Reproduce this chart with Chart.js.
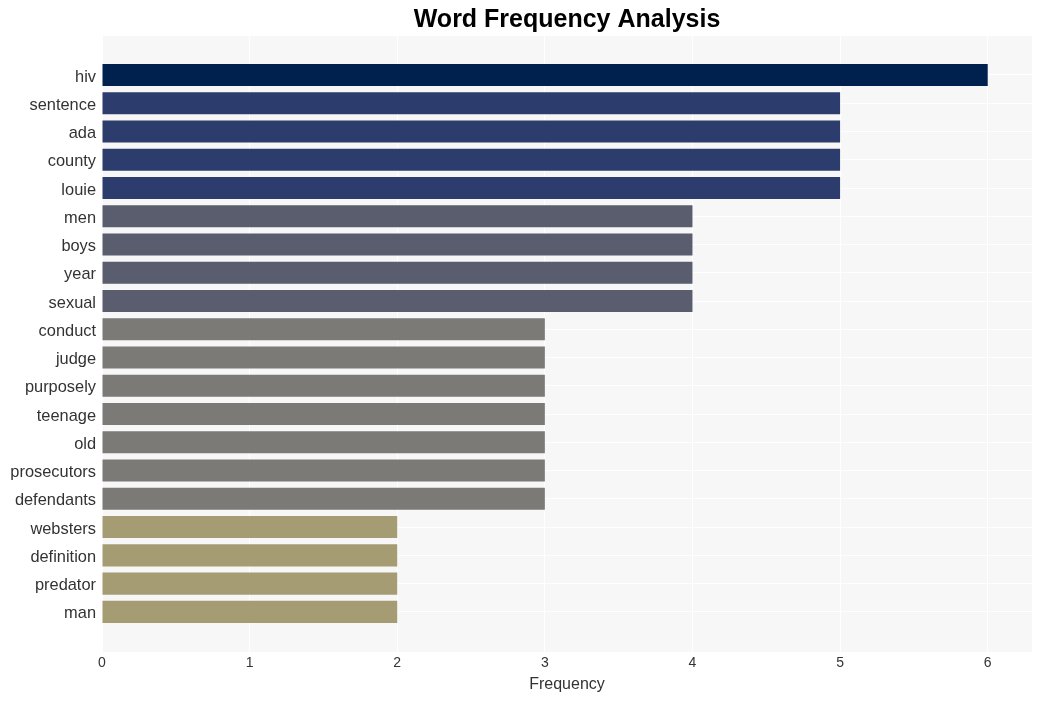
<!DOCTYPE html>
<html>
<head>
<meta charset="utf-8">
<script src="https://cdn.jsdelivr.net/npm/chart.js@4/dist/chart.umd.min.js"></script>
<style>
  html, body { margin: 0; padding: 0; background: #fff; }
  #wrap { width: 1041px; height: 701px; }
</style>
</head>
<body>
<div id="wrap"><canvas id="chart"></canvas></div>
<script>
// datos
const words = ['hiv', 'sentence', 'ada', 'county', 'louie', 'men', 'boys', 'year', 'sexual',
  'conduct', 'judge', 'purposely', 'teenage', 'old', 'prosecutors', 'defendants',
  'websters', 'definition', 'predator', 'man'];
const counts = [6, 5, 5, 5, 5, 4, 4, 4, 4, 3, 3, 3, 3, 3, 3, 3, 2, 2, 2, 2];
const xTicks = [0, 1, 2, 3, 4, 5, 6];

// color por frecuencia
const colorByCount = { 6: '#00204e', 5: '#2c3d6d', 4: '#595d6d', 3: '#7b7a77', 2: '#a59c74' };

const FONT = '"Liberation Sans", Arial, sans-serif';

// fondo gris del área de trazado + título centrado sobre ella
const panelPlugin = {
    id: 'panel',
    beforeDraw(chart) {
        const { ctx, chartArea: a } = chart;
        ctx.save();
        ctx.fillStyle = '#f7f7f7';
        ctx.fillRect(a.left, a.top, a.right - a.left, a.bottom - a.top);
        ctx.restore();
    },
    afterDraw(chart) {
        const { ctx, chartArea: a } = chart;
        ctx.save();
        ctx.fillStyle = '#000';
        ctx.font = 'bold 25px ' + FONT;
        ctx.textAlign = 'center';
        ctx.textBaseline = 'middle';
        ctx.fillText('Word Frequency Analysis', (a.left + a.right) / 2, 20);
        ctx.restore();
    }
};

new Chart(document.getElementById('chart'), {
    type: 'bar',
    data: {
        datasets: [{
            data: counts.map((c, i) => ({ x: c, y: i })),
            backgroundColor: counts.map(c => colorByCount[c]),
            borderWidth: 0,
            categoryPercentage: 1,
            barPercentage: 0.78
        }]
    },
    options: {
        indexAxis: 'y',
        responsive: true,
        maintainAspectRatio: false,
        animation: false,
        layout: { padding: { top: 36, right: 9, left: 0, bottom: 0 } },
        plugins: {
            legend: { display: false },
            tooltip: { enabled: false }
        },
        scales: {
            y: {
                type: 'linear',
                reverse: true,
                offset: false,
                min: -1.38,
                max: 20.42,
                afterBuildTicks: axis => { axis.ticks = words.map((w, i) => ({ value: i })); },
                afterFit: axis => { axis.width = 102; },
                grid: { color: '#ffffff', lineWidth: 1, drawTicks: false, offset: false },
                border: { display: false },
                ticks: {
                    padding: 6,
                    labelOffset: 2,
                    color: '#333',
                    font: { family: FONT, size: 16.4 },
                    callback: v => words[v] ?? ''
                }
            },
            x: {
                type: 'linear',
                min: 0,
                max: 6.3,
                afterBuildTicks: axis => { axis.ticks = xTicks.map(v => ({ value: v })); },
                afterFit: axis => { axis.height = 49; },
                grid: { color: '#ffffff', lineWidth: 1, drawTicks: false },
                border: { display: false },
                ticks: {
                    padding: 3,
                    color: '#333',
                    font: { family: FONT, size: 14 }
                },
                title: {
                    display: true,
                    text: 'Frequency',
                    color: '#333',
                    font: { family: FONT, size: 16 },
                    padding: { top: 0, bottom: 7 }
                }
            }
        }
    },
    plugins: [panelPlugin]
});
</script>
</body>
</html>
